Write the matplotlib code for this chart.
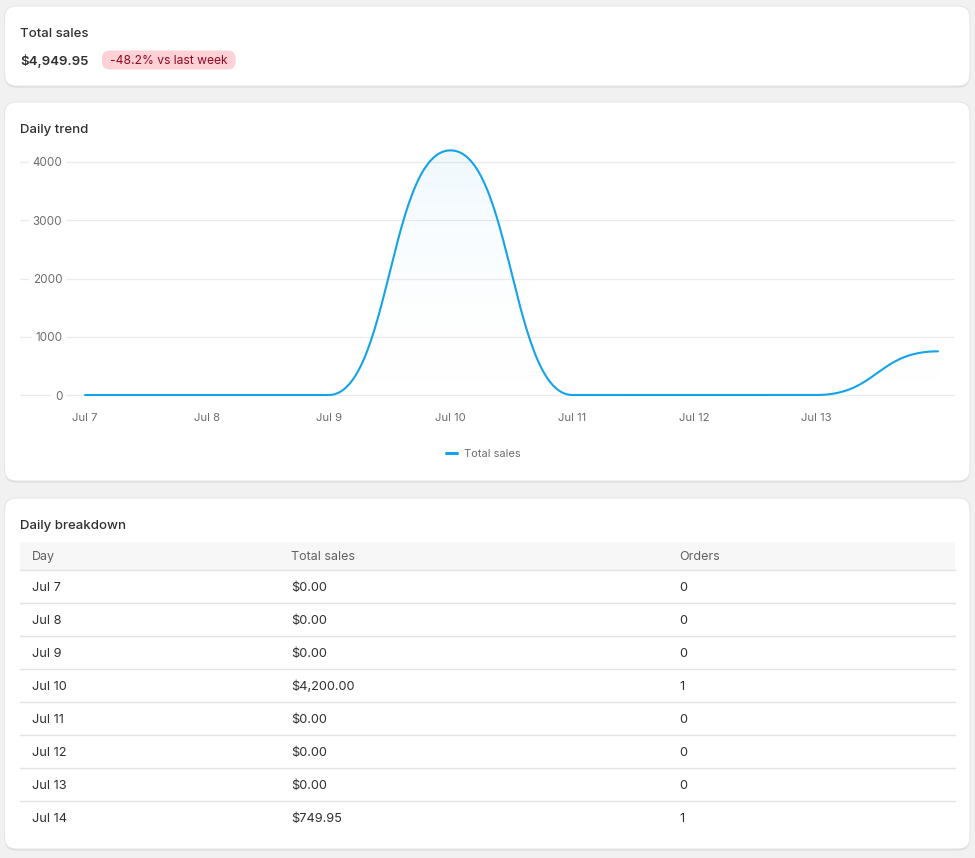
import matplotlib
matplotlib.use("Agg")
import matplotlib.pyplot as plt
from matplotlib.patches import FancyBboxPatch
import numpy as np

plt.rcParams['font.family'] = ['Inter', 'DejaVu Sans']

# data
days = ["Jul 7", "Jul 8", "Jul 9", "Jul 10", "Jul 11", "Jul 12", "Jul 13", "Jul 14"]
sales = [0.0, 0.0, 0.0, 4200.0, 0.0, 0.0, 0.0, 749.95]
orders = [0, 0, 0, 1, 0, 0, 0, 1]
pct_vs_last_week = -48.2
yticks = [0, 1000, 2000, 3000, 4000]
series_name = "Total sales"

W, H = 975, 858
BG = "#f1f1f1"
LINE = "#14a3e8"
DARK = "#303030"
GRAY = "#6d6d6d"

fig = plt.figure(figsize=(W / 100, H / 100), dpi=100, facecolor=BG)
base = fig.add_axes([0, 0, 1, 1])
base.set_xlim(0, W)
base.set_ylim(H, 0)
base.axis("off")


def card(x0, y0, x1, y1):
    shadow = FancyBboxPatch((x0, y0 + 1.5), x1 - x0, y1 - y0,
                            boxstyle="round,pad=0,rounding_size=12",
                            fc="#d9d9d9", ec="none", zorder=1)
    base.add_patch(shadow)
    box = FancyBboxPatch((x0, y0), x1 - x0, y1 - y0,
                         boxstyle="round,pad=0,rounding_size=12",
                         fc="white", ec="#e6e6e6", lw=0.8, zorder=2)
    base.add_patch(box)


def label(x, yc, s, size, **kw):
    # place text by baseline so that cap centres sit at yc (pixels)
    cap = 0.727 * size * 100 / 72
    return base.text(x, yc + cap / 2, s, fontsize=size, va="baseline", ha="left",
                     zorder=kw.pop("zorder", 5), **kw)


card(4.5, 6, 970, 86)
card(4.5, 102, 970, 481)
card(4.5, 498, 970, 849)

# card 1 - total
label(20, 32, "Total sales", 9.5, color=DARK, weight="medium")
total = sum(sales)
label(20, 60, "${:,.2f}".format(total), 9.5, color=DARK, weight="semibold")
badge_txt = label(110, 60, "{:.1f}% vs last week".format(pct_vs_last_week), 8.7,
                  color="#8e0b21", zorder=6)
renderer = fig.canvas.get_renderer()
bw = badge_txt.get_window_extent(renderer).width
badge = FancyBboxPatch((102, 50.5), bw + 16, 19, boxstyle="round,pad=0,rounding_size=8",
                       fc="#fed1d7", ec="none", zorder=5)
base.add_patch(badge)

# card 2 - chart
label(20, 128, "Daily trend", 9.5, color=DARK, weight="medium")

ax_l, ax_r, ax_t, ax_b = 20, 955, 140, 400
ax = fig.add_axes([ax_l / W, 1 - ax_b / H, (ax_r - ax_l) / W, (ax_b - ax_t) / H])
ax.set_zorder(5)
ax.patch.set_alpha(0)
px_x0, px_x7 = 85, 938
sx = (px_x7 - px_x0) / 7
ax.set_xlim(-(px_x0 - ax_l) / sx, 7 + (ax_r - px_x7) / sx)
sy = 233 / 4000
ax.set_ylim(-(ax_b - 395) / sy, (395 - ax_t) / sy)
for s in ax.spines.values():
    s.set_visible(False)

# bump-x style curve: horizontal tangents at every point
xi = np.arange(len(sales))
t = np.linspace(0, 1, 60)
cx, cy = [], []
for i in range(len(sales) - 1):
    x0, x1 = xi[i], xi[i + 1]
    xm = (x0 + x1) / 2
    P = np.array([[x0, sales[i]], [xm, sales[i]], [xm, sales[i + 1]], [x1, sales[i + 1]]])
    B = ((1 - t) ** 3)[:, None] * P[0] + (3 * (1 - t) ** 2 * t)[:, None] * P[1] \
        + (3 * (1 - t) * t ** 2)[:, None] * P[2] + (t ** 3)[:, None] * P[3]
    cx.extend(B[:, 0]); cy.extend(B[:, 1])
cx, cy = np.array(cx), np.array(cy)

ymax = max(sales)
fill = ax.fill_between(cx, 0, cy, color="none", lw=0)
grad = np.linspace(0, 1, 256)[:, None]
cmap = matplotlib.colors.LinearSegmentedColormap.from_list(
    "g", [(1, 1, 1, 0), (0.08, 0.64, 0.91, 0.07)])
im = ax.imshow(grad, extent=[cx.min(), cx.max(), 0, ymax], origin="lower",
               aspect="auto", cmap=cmap, zorder=1.5)
im.set_clip_path(fill.get_paths()[0], transform=ax.transData)
ax.plot(cx, cy, color=LINE, lw=1.5, zorder=3, label=series_name,
        solid_capstyle="round", clip_on=False)

ax.set_axisbelow(True)
ax.set_yticks(yticks)
ax.set_yticklabels([str(v) for v in yticks])
ax.yaxis.grid(True, color="#ebebeb", lw=1)
ax.tick_params(axis="y", length=0, pad=-30.5, labelsize=8.4, labelcolor=GRAY)
for lbl in ax.get_yticklabels():
    lbl.set_bbox(dict(fc="white", ec="none", pad=2.5))
ax.set_xticks(xi[:-1])
ax.set_xticklabels(days[:-1])
ax.tick_params(axis="x", length=0, pad=9.5, labelsize=8.2, labelcolor=GRAY)

leg = ax.legend(loc="center", bbox_to_anchor=(483 / W, 1 - 454 / H),
                bbox_transform=fig.transFigure, frameon=False, fontsize=8,
                handlelength=1.0, handletextpad=0.6, labelcolor=GRAY)
for h in leg.legend_handles:
    h.set_linewidth(2.2)

# card 3 - table
label(20, 524, "Daily breakdown", 9.5, color=DARK, weight="medium")
col_x = [32, 291, 679]
headers = ["Day", "Total sales", "Orders"]
base.add_patch(plt.Rectangle((20, 542), 935, 28, fc="#f7f7f7", ec="none", zorder=4))
for cxp, htxt in zip(col_x, headers):
    label(cxp, 555.5, htxt, 9, color="#616161")
row_h = 33
for r in range(len(days)):
    top = 570 + r * row_h
    base.plot([20, 955], [top, top], color="#e3e3e3", lw=1, zorder=5)
    yc = top + row_h / 2
    cells = [days[r], "${:,.2f}".format(sales[r]), str(orders[r])]
    for cxp, ctxt in zip(col_x, cells):
        label(cxp, yc, ctxt, 9.2, color=DARK)

fig.savefig("out.png", dpi=100, facecolor=BG)
